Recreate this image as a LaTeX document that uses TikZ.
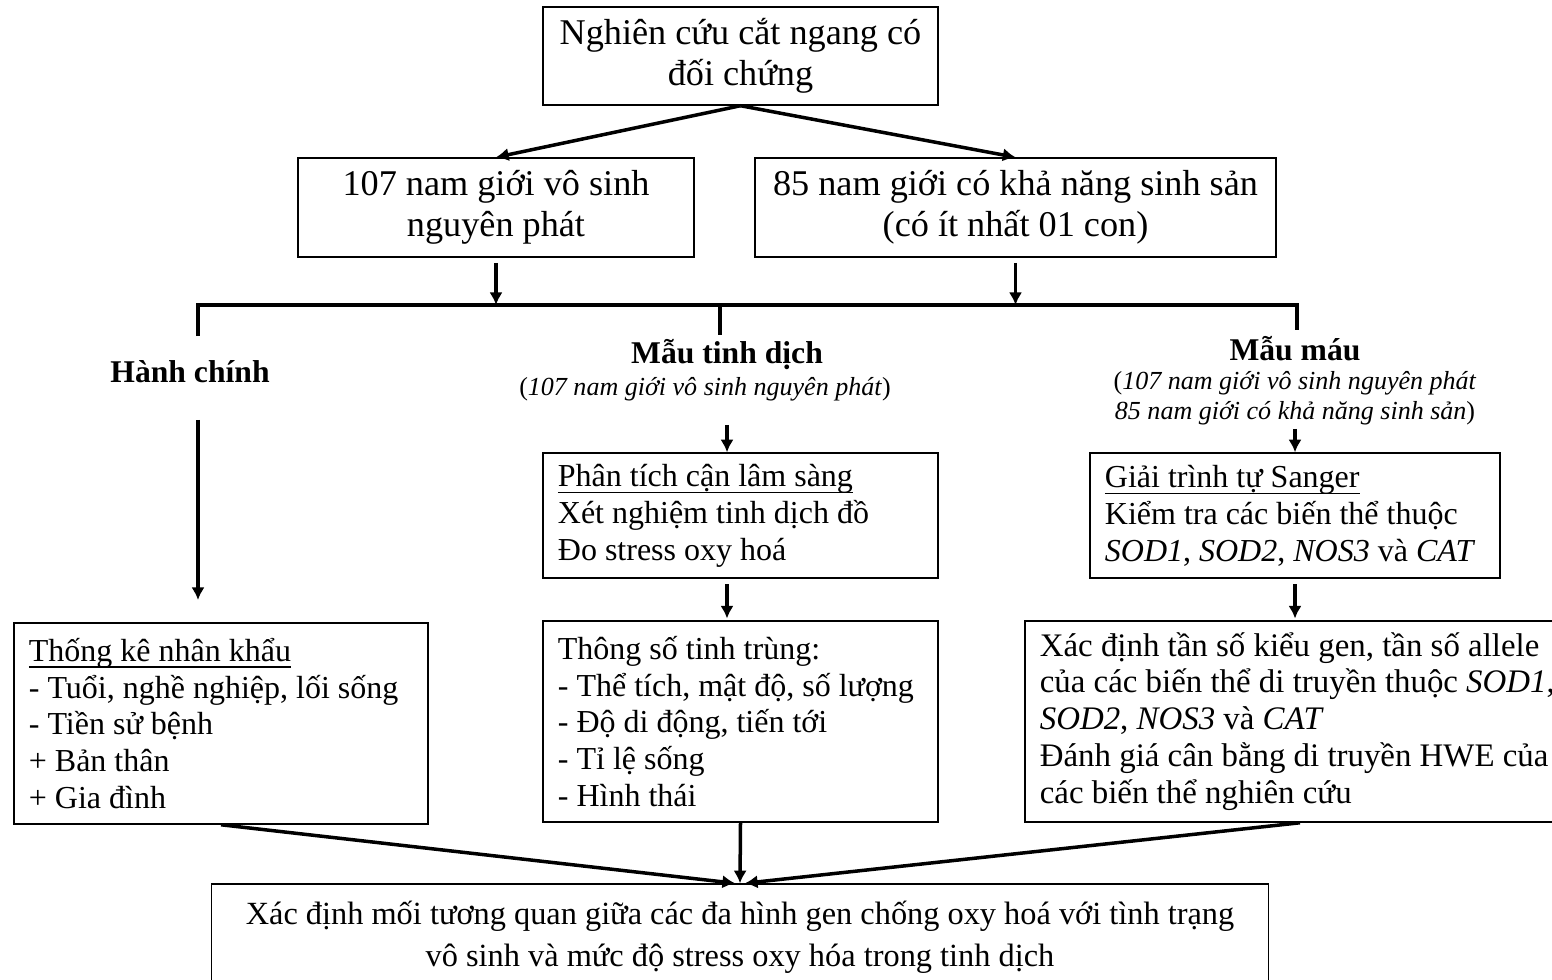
\documentclass[tikz,border=0pt]{standalone}
\usepackage{fontspec}
\setmainfont{Liberation Serif}
\usepackage{tikz}
\usetikzlibrary{arrows.meta}
\newcommand{\undl}[1]{\setbox0=\hbox{#1}\rlap{\vrule height -1.5pt depth 1.9pt width \wd0}\box0}

\begin{document}
\begin{tikzpicture}[x=0.01cm,y=-0.01cm]
\tikzset{box/.style = {draw,line width=0.4pt,inner sep=0pt,align=center,font=\fontsize{10.3}{11.7}\selectfont}}
\tikzset{lbox/.style = {draw,line width=0.4pt,inner xsep=0.15cm,inner ysep=0pt,align=flush left,font=\fontsize{9.1}{10.5}\selectfont}}
\tikzset{head/.style = {inner sep=0pt,font=\fontsize{9}{10}\selectfont\bfseries}}
\tikzset{sub/.style = {inner sep=0pt,align=center,font=\fontsize{7.4}{8.5}\selectfont}}
\tikzset{edge/.style = {-{Latex[length=3.6pt,width=3.8pt]},line width=0.035cm}}
\tikzset{bus/.style = {line width=0.04cm}}
\useasboundingbox (0,0) rectangle (1552,980);
% top
\node[box,minimum width=3.95cm,minimum height=0.98cm](nc) at (740.5,56) {Nghiên cứu cắt ngang có\\đối chứng};
\node[box,minimum width=3.96cm,minimum height=0.99cm](vs) at (496,207.5) {107 nam giới vô sinh\\nguyên phát};
\node[box,minimum width=5.21cm,minimum height=0.99cm](ss) at (1015.5,207.5) {85 nam giới có khả năng sinh sản\\(có ít nhất 01 con)};
% three branches
\node[head](hc) at (190,372) {Hành chính};
\node[head](td) at (727,355) {Mẫu tinh dịch};
\node[sub](tdn) at (705,389) {(\textit{107 nam giới vô sinh nguyên phát})};
\node[head](mm) at (1295,349) {Mẫu máu};
\node[sub](mmn) at (1295,398) {(\textit{107 nam giới vô sinh nguyên phát}\\\textit{85 nam giới có khả năng sinh sản})};
\node[lbox,text width=3.65cm,minimum height=1.25cm](cls) at (740.5,515.5) {\undl{Phân tích cận lâm sàng}\\Xét nghiệm tinh dịch đồ\\Đo stress oxy hoá};
\node[lbox,text width=3.80cm,minimum height=1.25cm](sg) at (1295,515.5) {\undl{Giải trình tự Sanger}\\Kiểm tra các biến thể thuộc\\\textit{SOD1}, \textit{SOD2}, \textit{NOS3} và \textit{CAT}};
\node[lbox,text width=3.84cm,minimum height=2.01cm](tk) at (221,723.5) {\undl{Thống kê nhân khẩu}\\- Tuổi, nghề nghiệp, lối sống\\- Tiền sử bệnh\\+ Bản thân\\+ Gia đình};
\node[lbox,text width=3.65cm,minimum height=2.01cm](tstt) at (740.5,721.5) {Thông số tinh trùng:\\- Thể tích, mật độ, số lượng\\- Độ di động, tiến tới\\- Tỉ lệ sống\\- Hình thái};
\node[lbox,text width=5.20cm,minimum height=2.01cm,font=\fontsize{9.35}{10.5}\selectfont](ts) at (1300,721.5) {Xác định tần số kiểu gen, tần số allele\\của các biến thể di truyền thuộc \textit{SOD1},\\\textit{SOD2}, \textit{NOS3} và \textit{CAT}\\Đánh giá cân bằng di truyền HWE của\\các biến thể nghiên cứu};
\node[box,minimum width=10.56cm,minimum height=1.06cm,font=\fontsize{9.2}{11.9}\selectfont](kq) at (740,937) {Xác định mối tương quan giữa các đa hình gen chống oxy hoá với tình trạng\\vô sinh và mức độ stress oxy hóa trong tinh dịch};
% free ends
\coordinate (bl) at (198,305);
\coordinate (br) at (1297,305);
\coordinate (bm) at (720,305);
\coordinate (l1) at (198,420);
\coordinate (l2) at (198,600);
\coordinate (m1) at (727,425);
\draw[edge] (nc.south) -- (vs.north);
\draw[edge] (nc.south) -- (ss.north);
\draw[edge,shorten <=1.5pt] (vs.south) -- (vs.south |- bl);
\draw[edge,shorten <=1.5pt] (ss.south) -- (ss.south |- bl);
\draw[bus] ([yshift=-0.31cm]bl) -- (bl) -- (br) -- ([yshift=-0.25cm]br);
\draw[bus] (bm) -- ([yshift=-0.3cm]bm);
\draw[edge] (l1) -- (l2);
\draw[edge] (m1) -- (m1 |- cls.north);
\draw[edge,shorten <=1.5pt,shorten >=0.5pt] (m1 |- cls.south) -- (m1 |- tstt.north);
\draw[edge,shorten <=1pt] (mmn.south) -- (sg.north);
\draw[edge,shorten <=1.5pt,shorten >=0.5pt] (sg.south) -- (sg.south |- ts.north);
\draw[edge] (tk.south) -- ([xshift=-1.4pt]kq.north);
\draw[edge] (tstt.south) -- (kq.north);
\draw[edge] (ts.south) -- ([xshift=1.4pt]kq.north);
\end{tikzpicture}
\end{document}
